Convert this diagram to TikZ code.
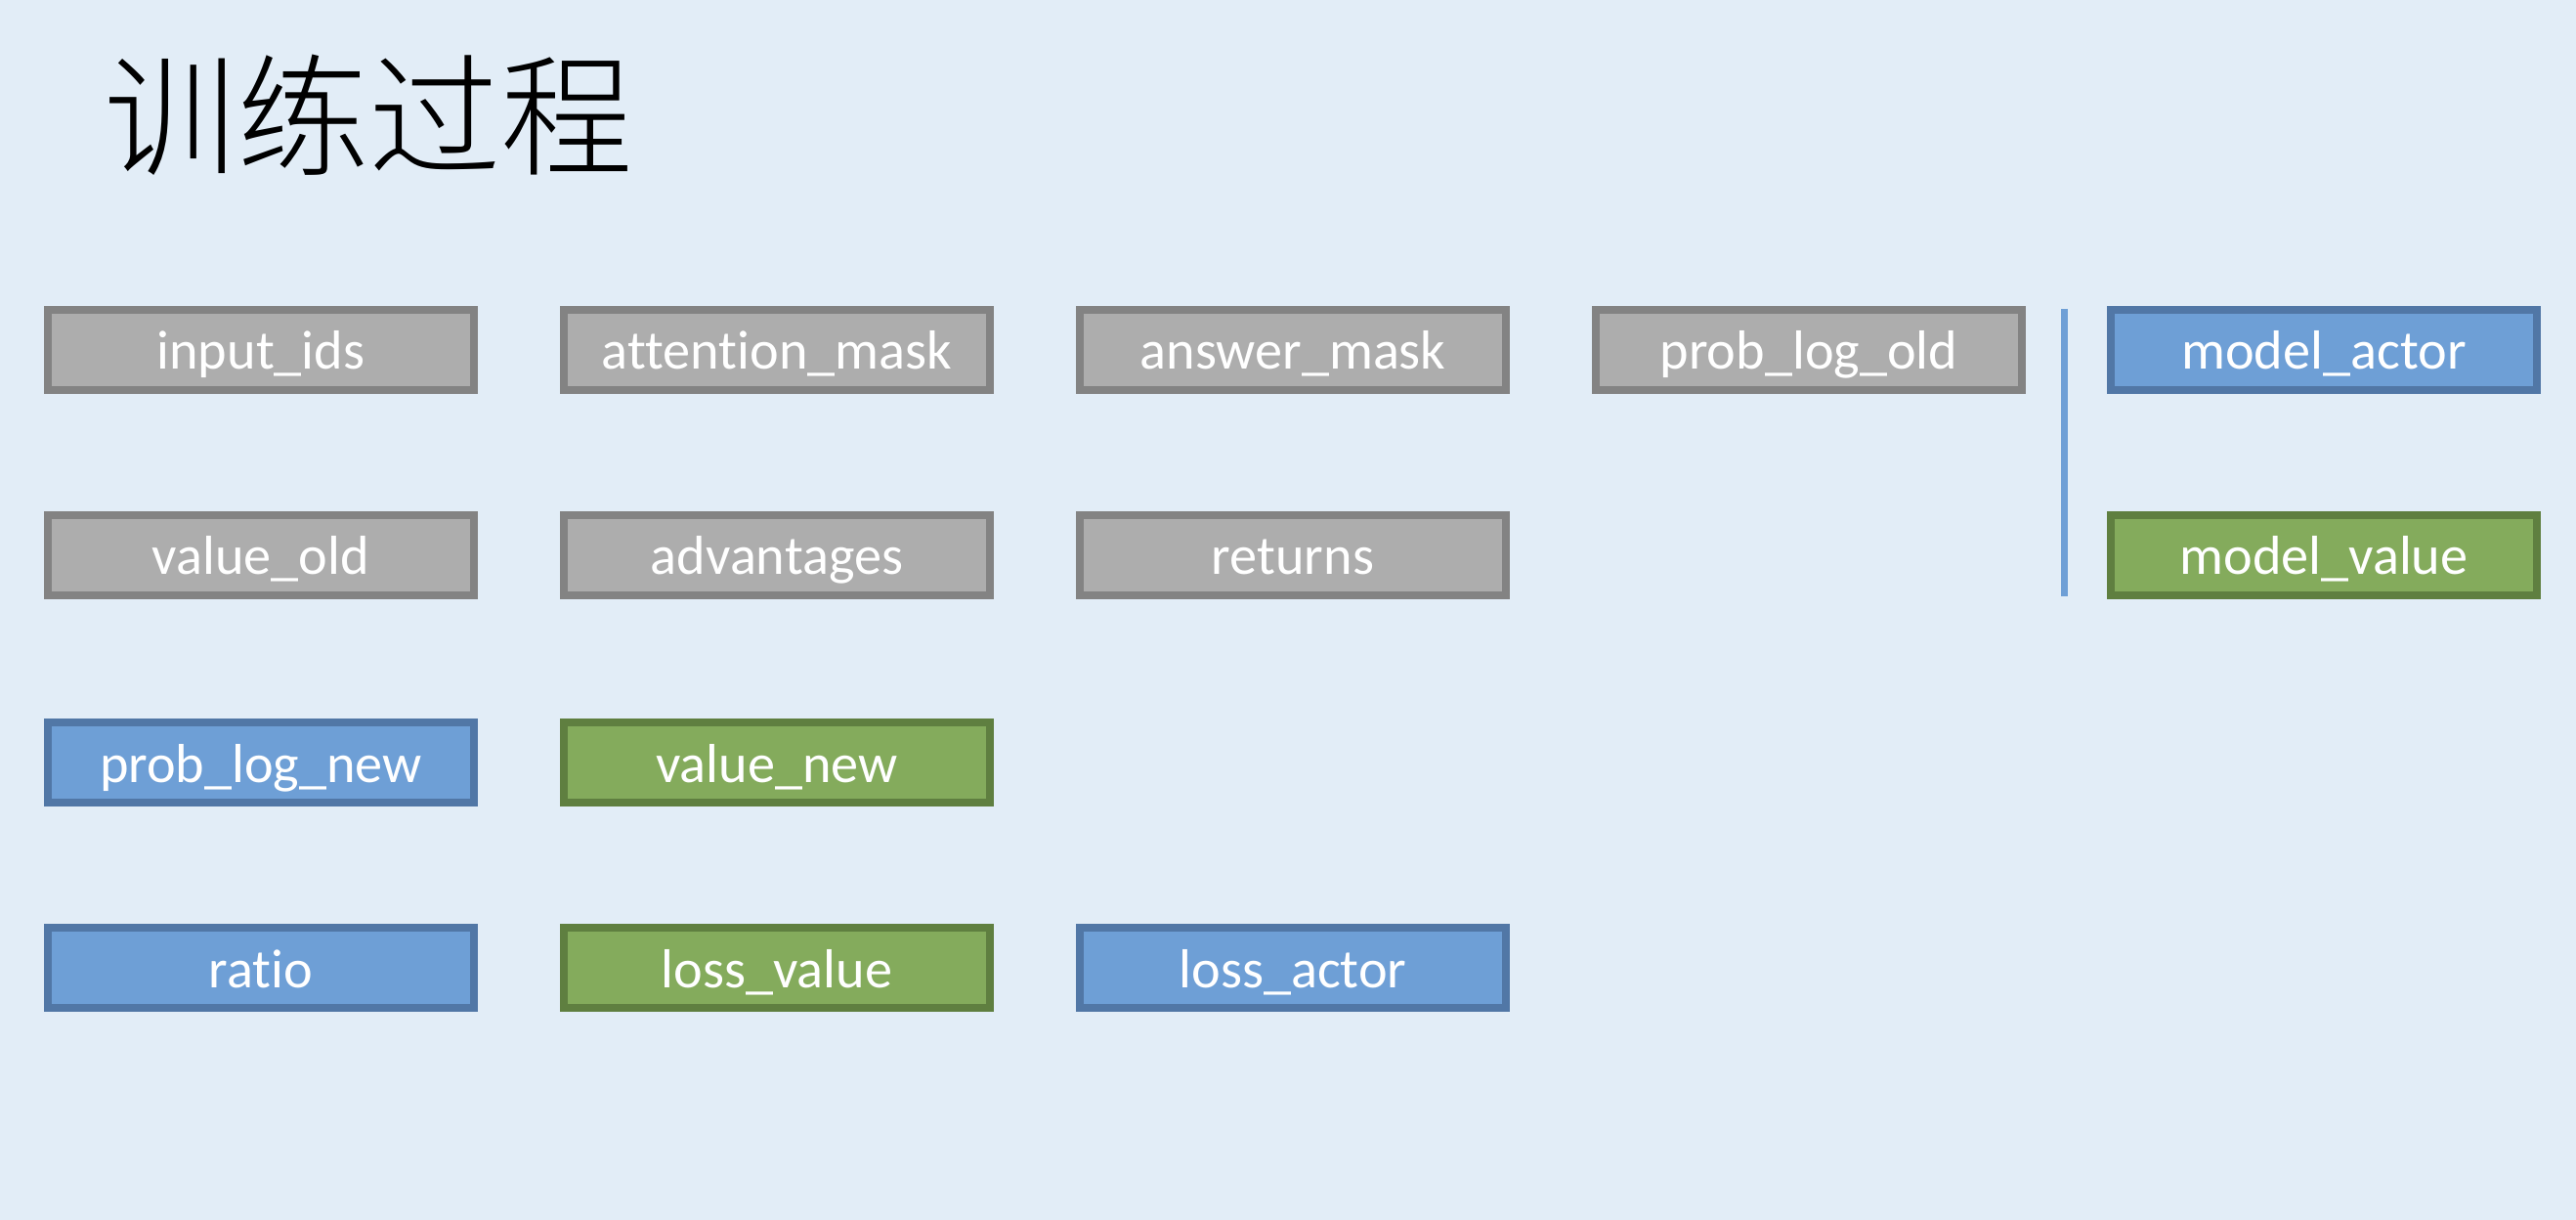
\documentclass[tikz,border=0pt]{standalone}
\usepackage{fontspec}
\setmainfont{Carlito}[Ligatures=NoCommon]
\newfontfamily\cjk{Noto Sans CJK SC}[UprightFont={* Light}]
\usepackage{tikz}
\usetikzlibrary{positioning}

\definecolor{slidebg}{HTML}{E2EDF7}
\definecolor{grayfill}{HTML}{ADADAD}
\definecolor{grayline}{HTML}{838383}
\definecolor{bluefill}{HTML}{6E9FD6}
\definecolor{blueline}{HTML}{5177A6}
\definecolor{greenfill}{HTML}{84AB5C}
\definecolor{greenline}{HTML}{5F7F40}

\tikzset{
  tensor/.style={draw, line width=0.08cm, minimum width=4.36cm, minimum height=0.82cm,
    inner sep=0pt, text height=0.5cm, text depth=0.1cm, text=white,
    font=\fontsize{16}{19}\selectfont},
  oldbox/.style={tensor, fill=grayfill, draw=grayline},
  actorbox/.style={tensor, fill=bluefill, draw=blueline},
  valuebox/.style={tensor, fill=greenfill, draw=greenline}
}

\begin{document}
\begin{tikzpicture}
        \fill[slidebg] (0,0) rectangle (26.36,-12.48);
        \useasboundingbox (0,0) rectangle (26.36,-12.48);
        \node[anchor=west, inner sep=0pt] (title) at (1.06,-1.18) {\cjk\fontsize{38.5}{40}\selectfont 训练过程};

        \node[oldbox] (ids) at (2.67,-3.58) {input\_ids};
        \node[oldbox] (attn) at (7.95,-3.58) {attention\_mask};
        \node[oldbox] (ansmask) at (13.23,-3.58) {answer\_mask};
        \node[oldbox] (probold) at (18.51,-3.58) {prob\_log\_old};
        \node[oldbox] (valold) at (2.67,-5.68) {value\_old};
        \node[oldbox] (adv) at (7.95,-5.68) {advantages};
        \node[oldbox] (ret) at (13.23,-5.68) {returns};

        \node[actorbox] (probnew) at (2.67,-7.80) {prob\_log\_new};
        \node[valuebox] (valnew) at (7.95,-7.80) {value\_new};
        \node[actorbox] (ratio) at (2.67,-9.90) {ratio};
        \node[valuebox] (lossval) at (7.95,-9.90) {loss\_value};
        \node[actorbox] (lossact) at (13.23,-9.90) {loss\_actor};

        \node[actorbox] (actor) at (23.78,-3.58) {model\_actor};
        \node[valuebox] (critic) at (23.78,-5.68) {model\_value};

        \coordinate (septop) at (21.12,-3.16);
        \coordinate (sepbot) at (21.12,-6.10);
        \draw[bluefill, line width=0.07cm] (septop) -- (sepbot);
    \end{tikzpicture}
\end{document}
